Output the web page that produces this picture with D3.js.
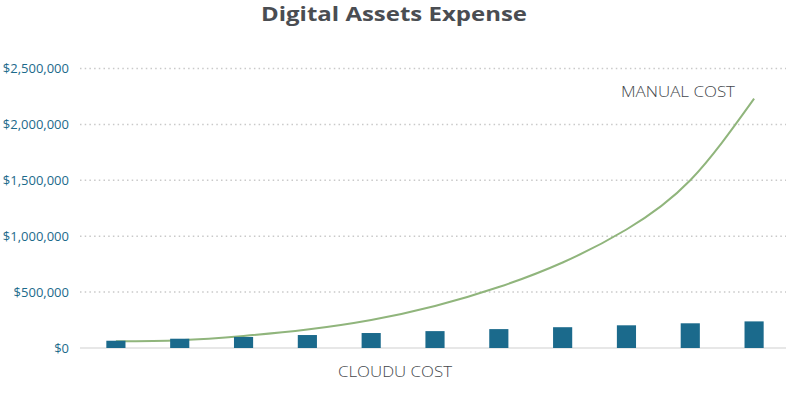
<!DOCTYPE html>
<html><head><meta charset="utf-8">
<script src="https://cdn.jsdelivr.net/npm/d3@7"></script>
<style>body{margin:0;background:#fff}svg{display:block}</style>
</head><body>
<svg id="c" width="789" height="398"></svg>
<script>
const periods = ["1","2","3","4","5","6","7","8","9","10","11"];
const cloudCost = [65000, 83000, 99000, 116000, 134000, 151000, 169000, 186000, 203000, 221000, 238000];
const manualCost = [60000, 70000, 108000, 165000, 250000, 375000, 545000, 765000, 1060000, 1500000, 2230000];
const yTicks = [0, 500000, 1000000, 1500000, 2000000, 2500000];
const title = "Digital Assets Expense";
const manualLabel = "MANUAL COST";
const cloudLabel = "CLOUDU COST";

const svg = d3.select("#c");
const x = d3.scaleBand().domain(periods).range([84, 786]).padding(0.7).paddingOuter(0.35);
const y = d3.scaleLinear().domain([0, 2500000]).range([348, 68.5]);

// gridlines
svg.append("g").selectAll("line").data(yTicks.filter(d => d > 0)).join("line")
  .attr("x1", 80).attr("x2", 786)
  .attr("y1", d => y(d)).attr("y2", d => y(d))
  .attr("stroke", "#c9c9c9").attr("stroke-width", 1.5).attr("stroke-dasharray", "1.5 3.2");

// y axis labels
const yAxis = d3.axisLeft(y).tickValues(yTicks).tickSize(0).tickPadding(0)
  .tickFormat(d => "$" + d3.format(",")(d));
const ga = svg.append("g").attr("transform", "translate(69,0)").call(yAxis);
ga.select(".domain").remove();
ga.selectAll("text").attr("fill", "#1c6a8b").attr("font-family", "'Open Sans', sans-serif")
  .attr("font-size", 13).attr("font-weight", 500);

// baseline
svg.append("line").attr("x1", 80).attr("x2", 786).attr("y1", y(0)).attr("y2", y(0))
  .attr("stroke", "#cfcfcf").attr("stroke-width", 1.2);

// manual cost line
const cx = d => x(d) + x.bandwidth() / 2;
const line = d3.line().x((d, i) => cx(periods[i])).y(d => y(d)).curve(d3.curveNatural);
svg.append("path").datum(manualCost).attr("d", line)
  .attr("fill", "none").attr("stroke", "#90b57c").attr("stroke-width", 2);

// bars
svg.append("g").selectAll("rect").data(cloudCost).join("rect")
  .attr("x", (d, i) => x(periods[i])).attr("width", x.bandwidth())
  .attr("y", d => y(d)).attr("height", d => y(0) - y(d))
  .attr("fill", "#1b6a8c");

// title
svg.append("text").attr("x", 394).attr("y", 21).attr("text-anchor", "middle")
  .attr("font-family", "'Open Sans', sans-serif").attr("font-weight", 700).attr("font-size", 19)
  .attr("fill", "#4a4d52").attr("textLength", 266).attr("lengthAdjust", "spacingAndGlyphs")
  .text(title);

// labels
svg.append("text").attr("x", 621).attr("y", 97)
  .attr("font-family", "'Open Sans', sans-serif").attr("font-weight", 300).attr("font-size", 15)
  .attr("fill", "#44474b").attr("textLength", 114).attr("lengthAdjust", "spacingAndGlyphs")
  .text(manualLabel);
svg.append("text").attr("x", 338).attr("y", 377)
  .attr("font-family", "'Open Sans', sans-serif").attr("font-weight", 300).attr("font-size", 15)
  .attr("fill", "#44474b").attr("textLength", 114).attr("lengthAdjust", "spacingAndGlyphs")
  .text(cloudLabel);
</script>
</body></html>
